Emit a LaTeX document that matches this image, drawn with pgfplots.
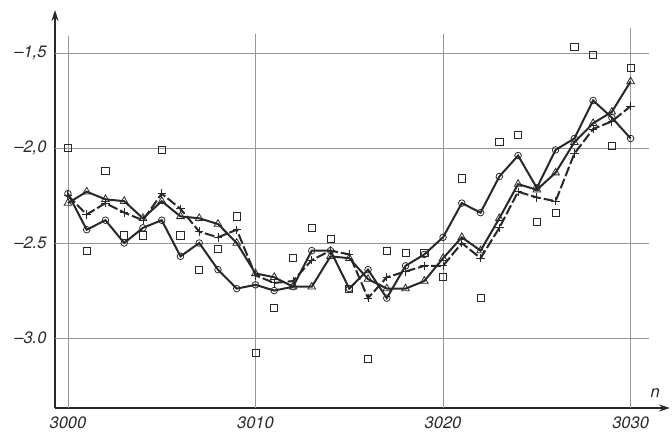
\documentclass[border=0pt]{standalone}
\usepackage{pgfplots}
\usepackage{pgfplotstable}
\pgfplotsset{compat=1.18}
\usepackage{fontspec}
\setmainfont{TeX Gyre Heros}
\usetikzlibrary{arrows.meta}
\definecolor{ink}{RGB}{40,40,40}
\definecolor{gridc}{RGB}{150,150,150}

\pgfplotstableread{
n    c      t      p      s
3000 -2.24 -2.29 -2.25 -2.00
3001 -2.43 -2.23 -2.35 -2.54
3002 -2.38 -2.27 -2.29 -2.12
3003 -2.50 -2.28 -2.34 -2.46
3004 -2.42 -2.37 -2.38 -2.46
3005 -2.38 -2.28 -2.24 -2.01
3006 -2.57 -2.36 -2.32 -2.46
3007 -2.50 -2.37 -2.44 -2.64
3008 -2.64 -2.40 -2.47 -2.53
3009 -2.74 -2.50 -2.43 -2.36
3010 -2.72 -2.66 -2.67 -3.08
3011 -2.75 -2.68 -2.71 -2.84
3012 -2.73 -2.73 -2.70 -2.58
3013 -2.54 -2.73 -2.59 -2.42
3014 -2.54 -2.57 -2.54 -2.48
3015 -2.74 -2.58 -2.56 -2.74
3016 -2.64 -2.69 -2.79 -3.11
3017 -2.79 -2.74 -2.68 -2.54
3018 -2.62 -2.74 -2.65 -2.55
3019 -2.56 -2.70 -2.62 -2.55
3020 -2.47 -2.58 -2.62 -2.68
3021 -2.29 -2.47 -2.50 -2.16
3022 -2.34 -2.54 -2.58 -2.79
3023 -2.15 -2.37 -2.42 -1.97
3024 -2.04 -2.19 -2.23 -1.93
3025 -2.21 -2.22 -2.26 -2.39
3026 -2.01 -2.13 -2.28 -2.34
3027 -1.95 -1.97 -2.03 -1.47
3028 -1.75 -1.87 -1.90 -1.51
3029 -1.84 -1.81 -1.86 -1.99
3030 -1.95 -1.65 -1.78 -1.58
}\data

\begin{document}
\begin{tikzpicture}
\path[use as bounding box] (0,0) rectangle (672pt,434pt);
\begin{axis}[
  at={(55pt,26pt)}, anchor=south west,
  scale only axis, width=615pt, height=398pt,
  xmin=2999.31, xmax=3032.1, ymin=-3.368, ymax=-1.274,
  clip=false,
  axis lines=left,
  axis line style={ink, line width=1.6pt, -{Stealth[length=11pt,width=7pt]}},
  major tick length=0pt,
  xtick={3000,3010,3020,3030},
  xticklabels={3000,3010,3020,3030},
  ytick={-3,-2.5,-2,-1.5},
  yticklabels={{--3.0},{--2.5},{--2{,}0},{--1{,}5}},
  tick label style={font=\fontsize{16.5}{18}\selectfont\itshape, text=ink},
  yticklabel style={anchor=east, xshift=-5pt},
  xticklabel style={anchor=north, yshift=-5pt},
  xlabel={\itshape n},
  xlabel style={at={(rel axis cs:0.976,0)}, anchor=base, yshift=11pt, font=\fontsize{16.5}{18}\selectfont, text=ink},
]
% grid
\draw[gridc, line width=0.6pt] (axis cs:2999.31,-1.5) -- (axis cs:3031,-1.5);
\draw[gridc, line width=0.6pt] (axis cs:2999.31,-2.0) -- (axis cs:3031,-2.0);
\draw[gridc, line width=0.6pt] (axis cs:2999.31,-2.5) -- (axis cs:3031,-2.5);
\draw[gridc, line width=0.6pt] (axis cs:2999.31,-3.0) -- (axis cs:3031,-3.0);
\draw[gridc, line width=0.6pt] (axis cs:3000,-3.368) -- (axis cs:3000,-1.41);
\draw[gridc, line width=0.6pt] (axis cs:3010,-3.368) -- (axis cs:3010,-1.40);
\draw[gridc, line width=0.6pt] (axis cs:3020,-3.368) -- (axis cs:3020,-1.40);
\draw[gridc, line width=0.6pt] (axis cs:3030,-3.368) -- (axis cs:3030,-1.37);

\addplot[ink, line width=2pt, mark=o, mark size=3.3pt,
  mark options={solid, fill=white, line width=0.8pt}] table[x=n,y=c]{\data};
\addplot[ink, line width=2pt, mark=triangle, mark size=4.4pt,
  mark options={solid, fill=white, line width=0.8pt}] table[x=n,y=t]{\data};
\addplot[ink, line width=2pt, dash pattern=on 10pt off 3pt, mark=+, mark size=4.2pt,
  mark options={solid, line width=0.9pt}] table[x=n,y=p]{\data};
\addplot[ink, only marks, mark=square, mark size=3.6pt,
  mark options={solid, fill=white, line width=0.8pt}] table[x=n,y=s]{\data};
\end{axis}
\end{tikzpicture}
\end{document}
